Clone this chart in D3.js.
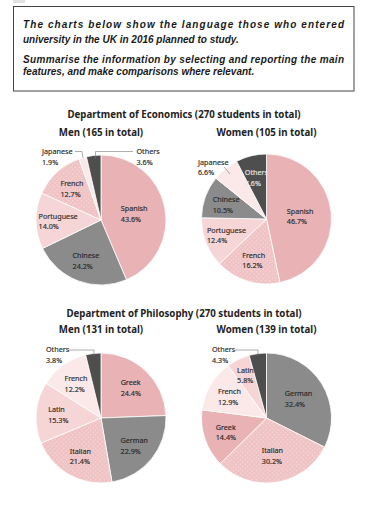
<!DOCTYPE html>
<html>
<head>
<meta charset="utf-8">
<script src="https://cdn.jsdelivr.net/npm/d3@7"></script>
<style>
  html, body { margin: 0; padding: 0; background: #fff; }
  svg { display: block; }
</style>
</head>
<body>
<svg id="chart" width="385" height="512"></svg>
<script>
// ---- data ----
const econLangs = ["Spanish", "Chinese", "Portuguese", "French", "Japanese", "Others"];
const econMen = [43.6, 24.2, 14.0, 12.7, 1.9, 3.6];
const econWomenLangs = ["Spanish", "French", "Portuguese", "Chinese", "Japanese", "Others"];
const econWomen = [46.7, 16.2, 12.4, 10.5, 6.6, 7.6];

const philLangs = ["Greek", "German", "Italian", "Latin", "French", "Others"];
const philMen = [24.4, 22.9, 21.4, 15.3, 12.2, 3.8];
const philWomenLangs = ["German", "Italian", "Greek", "French", "Latin", "Others"];
const philWomen = [32.4, 30.2, 14.4, 12.9, 5.8, 4.3];

const titles = ["Department of Economics (270 students in total)", "Department of Philosophy (270 students in total)"];
const subTitles = ["Men (165 in total)", "Women (105 in total)", "Men (131 in total)", "Women (139 in total)"];
const promptLines = [
  "The charts below show the language those who entered",
  "university in the UK in 2016 planned to study.",
  "Summarise the information by selecting and reporting the main",
  "features, and make comparisons where relevant."
];

// ---- drawing ----
const svg = d3.select("#chart");
const defs = svg.append("defs");
const pat = defs.append("pattern")
  .attr("id", "dots").attr("patternUnits", "userSpaceOnUse")
  .attr("width", 4.5).attr("height", 4.5);
pat.append("rect").attr("width", 4.5).attr("height", 4.5).attr("fill", "#efc2c4");
pat.append("circle").attr("cx", 1.1).attr("cy", 1.1).attr("r", 0.6).attr("fill", "#fbe6e7");
pat.append("circle").attr("cx", 3.35).attr("cy", 3.35).attr("r", 0.6).attr("fill", "#fbe6e7");

const PINK = "#e9b3b5", GRAY = "#8b8b8b", LIGHT = "#f6d5d6", PALE = "#fbe9e9", DARK = "#4e4e4e", DOTS = "url(#dots)";
const econColor = d3.scaleOrdinal().domain(econLangs).range([PINK, GRAY, LIGHT, DOTS, PALE, DARK]);
const philColor = d3.scaleOrdinal().domain(philLangs).range([PINK, GRAY, DOTS, LIGHT, PALE, DARK]);

// prompt box
svg.append("rect").attr("x", 13).attr("y", 0).attr("width", 12).attr("height", 3).attr("fill", "#e2e2e2");
svg.append("rect").attr("x", 13.5).attr("y", 6.5).attr("width", 340.5).attr("height", 84.5)
  .attr("fill", "none").attr("stroke", "#444").attr("stroke-width", 1);
const promptY = [28, 43, 63, 75];
promptLines.forEach((t, i) => {
  const txt = svg.append("text").attr("x", 23).attr("y", promptY[i])
    .attr("font-family", "Liberation Sans, Arial, sans-serif")
    .attr("font-weight", "bold").attr("font-style", "italic")
    .attr("font-size", 10).attr("fill", "#1a1a1a").text(t);
  if (i === 0 || i === 2) txt.attr("textLength", 321).attr("lengthAdjust", "spacing");
});

// titles
const titleY = [118, 317];
titles.forEach((t, i) => {
  svg.append("text").attr("x", 184).attr("y", titleY[i]).attr("text-anchor", "middle")
    .attr("font-family", "Noto Sans, sans-serif").attr("font-weight", "bold")
    .attr("font-size", 9.7).attr("fill", "#222").text(t);
});

const R = 65;
const pie = d3.pie().sort(null).value(d => d.v);
const arc = d3.arc().innerRadius(0).outerRadius(R);

// leader-label layout (positions only)
const leaders = {
  "0-Japanese": { x: 42, y: 154, pts: [[75, 151.5], [82, 151.5], [83, 158]] },
  "0-Others": { x: 136.5, y: 154, pts: [[133, 151.5], [95.5, 151.5], [95.5, 159]] },
  "1-Japanese": { x: 198, y: 164.5, pts: [[224, 167], [230, 174]] },
  "2-Others": { x: 46, y: 352, pts: [[68, 350], [94, 350], [94, 356]] },
  "3-Others": { x: 212, y: 352, pts: [[235, 350], [258, 350], [258, 356]] }
};

const charts = [
  { langs: econLangs, vals: econMen, color: econColor, cx: 101, cy: 220, sub: subTitles[0], subY: 136 },
  { langs: econWomenLangs, vals: econWomen, color: econColor, cx: 266.5, cy: 219, sub: subTitles[1], subY: 136 },
  { langs: philLangs, vals: philMen, color: philColor, cx: 101, cy: 418, sub: subTitles[2], subY: 333 },
  { langs: philWomenLangs, vals: philWomen, color: philColor, cx: 266.5, cy: 418, sub: subTitles[3], subY: 333 }
];

charts.forEach((c, ci) => {
  svg.append("text").attr("x", c.cx).attr("y", c.subY).attr("text-anchor", "middle")
    .attr("font-family", "Noto Sans, sans-serif").attr("font-weight", "bold")
    .attr("font-size", 9.7).attr("fill", "#222").text(c.sub);

  const data = c.langs.map((l, i) => ({ name: l, v: c.vals[i] }));
  const g = svg.append("g").attr("transform", `translate(${c.cx},${c.cy})`);
  const arcs = pie(data);

  g.selectAll("path").data(arcs).enter().append("path")
    .attr("d", arc)
    .attr("fill", d => c.color(d.data.name))
    .attr("stroke", "#fff").attr("stroke-width", 0.8);

  arcs.forEach(d => {
    const key = ci + "-" + d.data.name;
    const share = d.data.v / 100;
    let x, y, fill = "#2a2a2a";
    const lead = leaders[key];
    if (lead) {
      x = lead.x; y = lead.y;
      svg.append("polyline").attr("points", lead.pts.map(p => p.join(",")).join(" "))
        .attr("fill", "none").attr("stroke", "#777").attr("stroke-width", 0.6);
    } else {
      const f = share > 0.4 ? 0.52 : share > 0.28 ? 0.58 : share > 0.07 ? 0.66 : 0.74;
      const [ax, ay] = d3.arc().innerRadius(R * f).outerRadius(R * f).centroid(d);
      x = c.cx + ax; y = c.cy + ay;
      if (d.data.name === "Others") fill = "#e6e6e6";
    }
    const t = svg.append("text")
      .attr("font-family", "Noto Sans, sans-serif").attr("font-size", 7.2)
      .attr("fill", fill).attr("stroke", fill).attr("stroke-width", 0.15);
    const t1 = t.append("tspan").text(d.data.name);
    const t2 = t.append("tspan").text(d.data.v.toFixed(1) + "%");
    if (lead) {
      t1.attr("x", x).attr("y", y);
      t2.attr("x", x).attr("y", y + 10.5);
    } else {
      const w = Math.max(t1.node().getComputedTextLength(), t2.node().getComputedTextLength());
      t1.attr("x", x - w / 2).attr("y", y - 2);
      t2.attr("x", x - w / 2).attr("y", y + 8.5);
    }
  });
});
</script>
</body>
</html>
